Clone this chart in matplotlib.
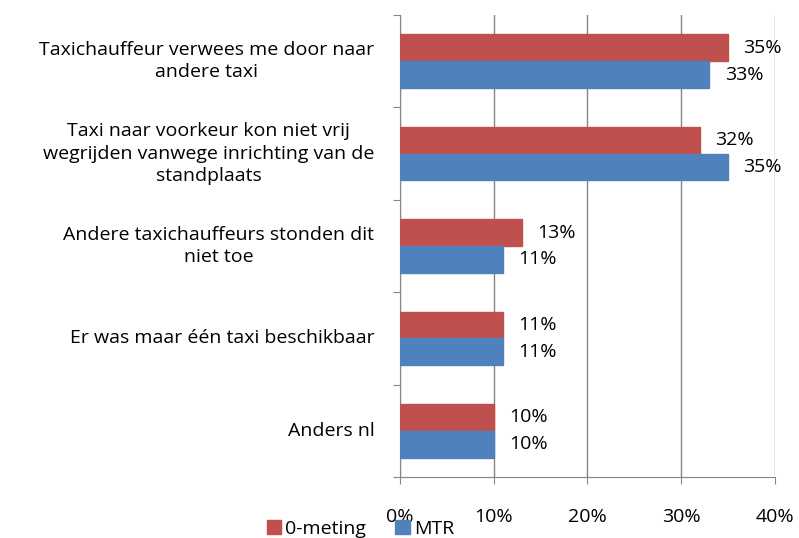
import matplotlib.pyplot as plt
import numpy as np

categories = [
    "Taxichauffeur verwees me door naar\nandere taxi",
    "Taxi naar voorkeur kon niet vrij\nwegrijden vanwege inrichting van de\nstandplaats",
    "Andere taxichauffeurs stonden dit\nniet toe",
    "Er was maar één taxi beschikbaar",
    "Anders nl",
]
nulmeting = [35, 32, 13, 11, 10]
mtr = [33, 35, 11, 11, 10]
series_names = ["0-meting", "MTR"]
xticks = [0, 10, 20, 30, 40]

plt.rcParams['font.family'] = ['Open Sans', 'DejaVu Sans']
fs = 14

fig = plt.figure(figsize=(7.99, 5.38), dpi=100)
ax = fig.add_axes([0.5006, 0.1134, 0.4693, 0.8587])

red = "#C0504D"
blue = "#4F81BD"
grid = "#868686"

y = np.arange(len(categories))
h = 0.29
b1 = ax.barh(y - h / 2, nulmeting, height=h, color=red, edgecolor=red, label=series_names[0], zorder=3)
b2 = ax.barh(y + h / 2, mtr, height=h, color=blue, edgecolor=blue, label=series_names[1], zorder=3)

for bars, vals in ((b1, nulmeting), (b2, mtr)):
    for bar, v in zip(bars, vals):
        ax.annotate(f"{v}%", (bar.get_width(), bar.get_y() + bar.get_height() / 2),
                    xytext=(11, 0), textcoords="offset points", va="center", ha="left",
                    fontsize=fs, annotation_clip=False)

ax.set_xlim(0, 40)
ax.set_ylim(len(categories) - 0.5, -0.5)
ax.set_xticks(xticks)
ax.set_xticklabels([f"{t}%" for t in xticks], fontsize=fs)
ax.tick_params(axis="x", length=5, color=grid, pad=17)

# category labels centred in each band, ticks on the band edges
ax.set_yticks(np.arange(-0.5, len(categories)))
ax.set_yticklabels([])
ax.tick_params(axis="y", length=5, color=grid)
for i, lab in enumerate(categories):
    ax.text(-0.068, i, lab, transform=ax.get_yaxis_transform(), ha="right", va="center",
            multialignment="center", fontsize=fs, linespacing=1.3)

ax.grid(axis="x", color=grid, linewidth=1, zorder=0)
for s in ("top", "right"):
    ax.spines[s].set_visible(False)
for s in ("left", "bottom"):
    ax.spines[s].set_color(grid)

ax.legend(loc="upper left", bbox_to_anchor=(-0.355, -0.093), ncol=2, frameon=False,
          fontsize=fs, handlelength=0.75, handleheight=0.75, handletextpad=0.2,
          columnspacing=1.5, borderaxespad=0, borderpad=0)

fig.savefig("out.png", dpi=100)
